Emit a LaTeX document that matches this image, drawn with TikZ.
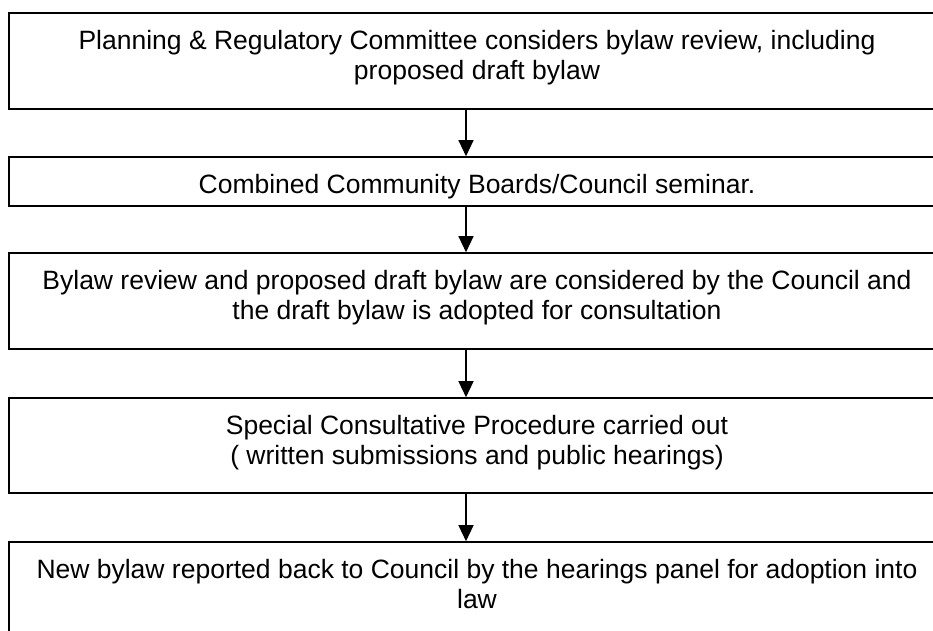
\documentclass[tikz,border=0pt]{standalone}
\usepackage{fontspec}
\setmainfont{Liberation Sans}
\usetikzlibrary{arrows.meta}
% text of one stage: fixed-height box, lines centred and hung from the top
\newcommand\stagetext[2]{\parbox[c][#1pt][t]{936pt}{\fontsize{26.5}{30.6}\selectfont\centering\vspace*{14.6pt}\strut #2\par}}
\begin{document}
\begin{tikzpicture}[x=1pt,y=-1pt,
  stage/.style={draw=black, line width=1.6pt, inner sep=0pt, fill=white},
  flow/.style={line width=1.3pt, -{Triangle[width=15pt,length=16pt]}}]
\useasboundingbox (0,0) rectangle (933,630);
\fill[white] (0,0) rectangle (933,630);
\clip (0,0) rectangle (933,630);

\node[stage] (b1) at (477,61)    {\stagetext{96}{Planning \& Regulatory Committee considers bylaw review, including\\ proposed draft bylaw}};
\node[stage] (b2) at (477,181.5) {\stagetext{49}{Combined Community Boards/Council seminar.}};
\node[stage] (b3) at (477,301)   {\stagetext{96}{Bylaw review and proposed draft bylaw are considered by the Council and\\ the draft bylaw is adopted for consultation}};
\node[stage] (b4) at (477,445.5) {\stagetext{95}{Special Consultative Procedure carried out\\ ( written submissions and public hearings)}};
\node[stage] (b5) at (477,588)   {\stagetext{92}{New bylaw reported back to Council by the hearings panel for adoption into\\ law}};

\draw[flow] ([xshift=-11pt]b1.south) -- ([xshift=-11pt]b2.north);
\draw[flow] ([xshift=-11pt]b2.south) -- ([xshift=-11pt]b3.north);
\draw[flow] ([xshift=-11pt]b3.south) -- ([xshift=-11pt]b4.north);
\draw[flow] ([xshift=-11pt]b4.south) -- ([xshift=-11pt]b5.north);
\end{tikzpicture}
\end{document}
